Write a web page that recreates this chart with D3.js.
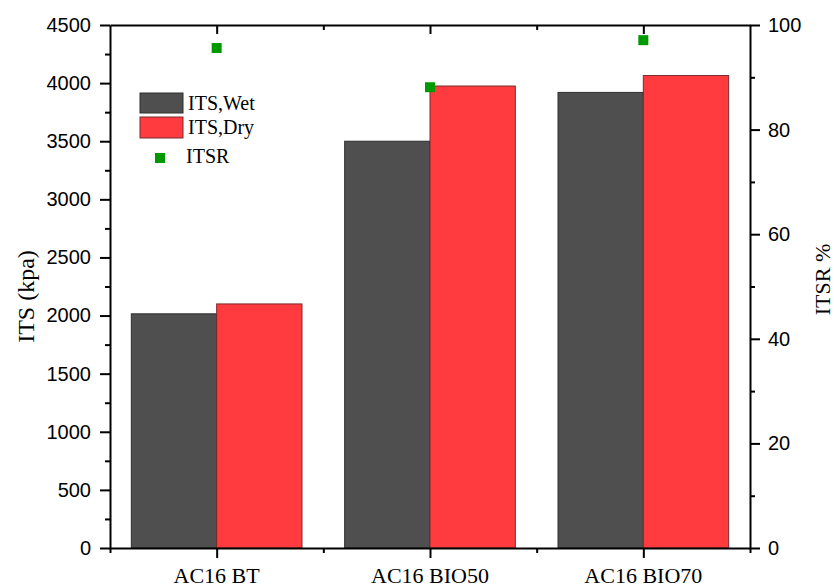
<!DOCTYPE html>
<html>
<head>
<meta charset="utf-8">
<script src="https://cdn.jsdelivr.net/npm/d3@7"></script>
<style>
  html, body { margin: 0; padding: 0; background: #fff; }
  svg { display: block; }
</style>
</head>
<body>
<svg id="chart" width="834" height="588"></svg>
<script>
// Mixtures on the category axis
const categories = ["AC16 BT", "AC16 BIO50", "AC16 BIO70"];
// Indirect tensile strength (kPa)
const itsWet = [2015, 3500, 3920];
const itsDry = [2100, 3975, 4065];
// Tensile strength ratio (%)
const itsr = [95.6, 88.1, 97.1];
// Axis ticks
const leftTicks = [0, 500, 1000, 1500, 2000, 2500, 3000, 3500, 4000, 4500];
const rightTicks = [0, 20, 40, 60, 80, 100];

const W = 834, H = 588;
const margin = { top: 25, right: 84, bottom: 40, left: 110 };
const x0 = margin.left, x1 = W - margin.right;
const y0 = H - margin.bottom, y1 = margin.top;

const svg = d3.select("#chart");

const x = d3.scaleLinear().domain([0.5, categories.length + 0.5]).range([x0, x1]);
const yL = d3.scaleLinear().domain([0, 4500]).range([y0, y1]);
const yR = d3.scaleLinear().domain([0, 100]).range([y0, y1]);

const barW = 0.4;
const wetFill = "#4f4f4f", wetStroke = "#2e2e2e";
const dryFill = "#ff3b40", dryStroke = "#7a2a2a";
const ptFill = "#009a00";

// Bars
const bars = svg.append("g");
categories.forEach((c, i) => {
  const cx = i + 1;
  bars.append("rect")
    .attr("x", x(cx - barW)).attr("width", x(cx) - x(cx - barW))
    .attr("y", yL(itsWet[i])).attr("height", yL(0) - yL(itsWet[i]))
    .attr("fill", wetFill).attr("stroke", wetStroke).attr("stroke-width", 1);
  bars.append("rect")
    .attr("x", x(cx)).attr("width", x(cx + barW) - x(cx))
    .attr("y", yL(itsDry[i])).attr("height", yL(0) - yL(itsDry[i]))
    .attr("fill", dryFill).attr("stroke", dryStroke).attr("stroke-width", 1);
});

// ITSR points on the right axis
svg.append("g").selectAll("rect").data(itsr).join("rect")
  .attr("x", (d, i) => x(i + 1) - 5)
  .attr("y", d => yR(d) - 5)
  .attr("width", 10).attr("height", 10)
  .attr("fill", ptFill);

const tickFont = "'Liberation Sans', Arial, sans-serif";
const serif = "'Liberation Serif', 'Times New Roman', serif";

function styleAxis(g) {
  g.selectAll("path.domain").attr("stroke", "#000").attr("stroke-width", 2);
  g.selectAll(".tick line").attr("stroke", "#000").attr("stroke-width", 2);
  g.selectAll(".tick text").attr("font-family", tickFont).attr("font-size", 20).attr("fill", "#000");
}

// Left axis: major + minor ticks
const leftMinor = d3.range(250, 4500, 500);
svg.append("g").attr("transform", `translate(${x0},0)`)
  .call(d3.axisLeft(yL).tickValues(leftMinor).tickSize(5).tickFormat(""))
  .call(g => g.select(".domain").remove())
  .call(styleAxis);
svg.append("g").attr("transform", `translate(${x0},0)`)
  .call(d3.axisLeft(yL).tickValues(leftTicks).tickSize(10).tickSizeOuter(0).tickPadding(9).tickFormat(d3.format("d")))
  .call(styleAxis);

// Right axis
const rightMinor = d3.range(10, 100, 20);
svg.append("g").attr("transform", `translate(${x1},0)`)
  .call(d3.axisRight(yR).tickValues(rightMinor).tickSize(5).tickFormat(""))
  .call(g => g.select(".domain").remove())
  .call(styleAxis);
svg.append("g").attr("transform", `translate(${x1},0)`)
  .call(d3.axisRight(yR).tickValues(rightTicks).tickSize(10).tickSizeOuter(0).tickPadding(8).tickFormat(d3.format("d")))
  .call(styleAxis);

// Bottom axis
const catPos = categories.map((c, i) => i + 1);
const halfPos = d3.range(0.5, categories.length + 1, 1);
svg.append("g").attr("transform", `translate(0,${y0})`)
  .call(d3.axisBottom(x).tickValues(halfPos).tickSize(5).tickFormat(""))
  .call(g => g.select(".domain").remove())
  .call(styleAxis);
svg.append("g").attr("transform", `translate(0,${y0})`)
  .call(d3.axisBottom(x).tickValues(catPos).tickSize(10).tickSizeOuter(0).tickFormat(""))
  .call(styleAxis);

// Top frame with inward ticks
svg.append("g").attr("transform", `translate(0,${y1})`)
  .call(d3.axisBottom(x).tickValues(halfPos.slice(1, -1)).tickSize(5).tickFormat(""))
  .call(g => g.select(".domain").remove())
  .call(styleAxis);
svg.append("g").attr("transform", `translate(0,${y1})`)
  .call(d3.axisBottom(x).tickValues(catPos).tickSize(9).tickSizeOuter(0).tickFormat(""))
  .call(styleAxis);

// Category labels
svg.append("g").selectAll("text").data(categories).join("text")
  .attr("x", (d, i) => x(i + 1))
  .attr("y", 583)
  .attr("text-anchor", "middle")
  .attr("font-family", serif).attr("font-size", 22).attr("fill", "#000")
  .text(d => d);

// Axis titles
svg.append("text")
  .attr("transform", `translate(34,${(y0 + y1) / 2 + 10}) rotate(-90)`)
  .attr("text-anchor", "middle")
  .attr("font-family", serif).attr("font-size", 24).attr("fill", "#000")
  .text("ITS (kpa)");
svg.append("text")
  .attr("transform", `translate(830,${(y0 + y1) / 2 - 7}) rotate(-90)`)
  .attr("text-anchor", "middle")
  .attr("font-family", serif).attr("font-size", 22).attr("fill", "#000")
  .text("ITSR %");

// Legend
const legend = svg.append("g");
legend.append("rect").attr("x", 140).attr("y", 93).attr("width", 43).attr("height", 20)
  .attr("fill", wetFill).attr("stroke", wetStroke).attr("stroke-width", 1);
legend.append("rect").attr("x", 140).attr("y", 117).attr("width", 43).attr("height", 21)
  .attr("fill", dryFill).attr("stroke", dryStroke).attr("stroke-width", 1);
legend.append("rect").attr("x", 155).attr("y", 153).attr("width", 10).attr("height", 10)
  .attr("fill", ptFill);
[["ITS,Wet", 188, 110], ["ITS,Dry", 188, 134], ["ITSR", 186, 163]].forEach(([t, lx, ly]) => {
  legend.append("text").attr("x", lx).attr("y", ly)
    .attr("font-family", serif).attr("font-size", 20).attr("fill", "#000")
    .text(t);
});
</script>
</body>
</html>
